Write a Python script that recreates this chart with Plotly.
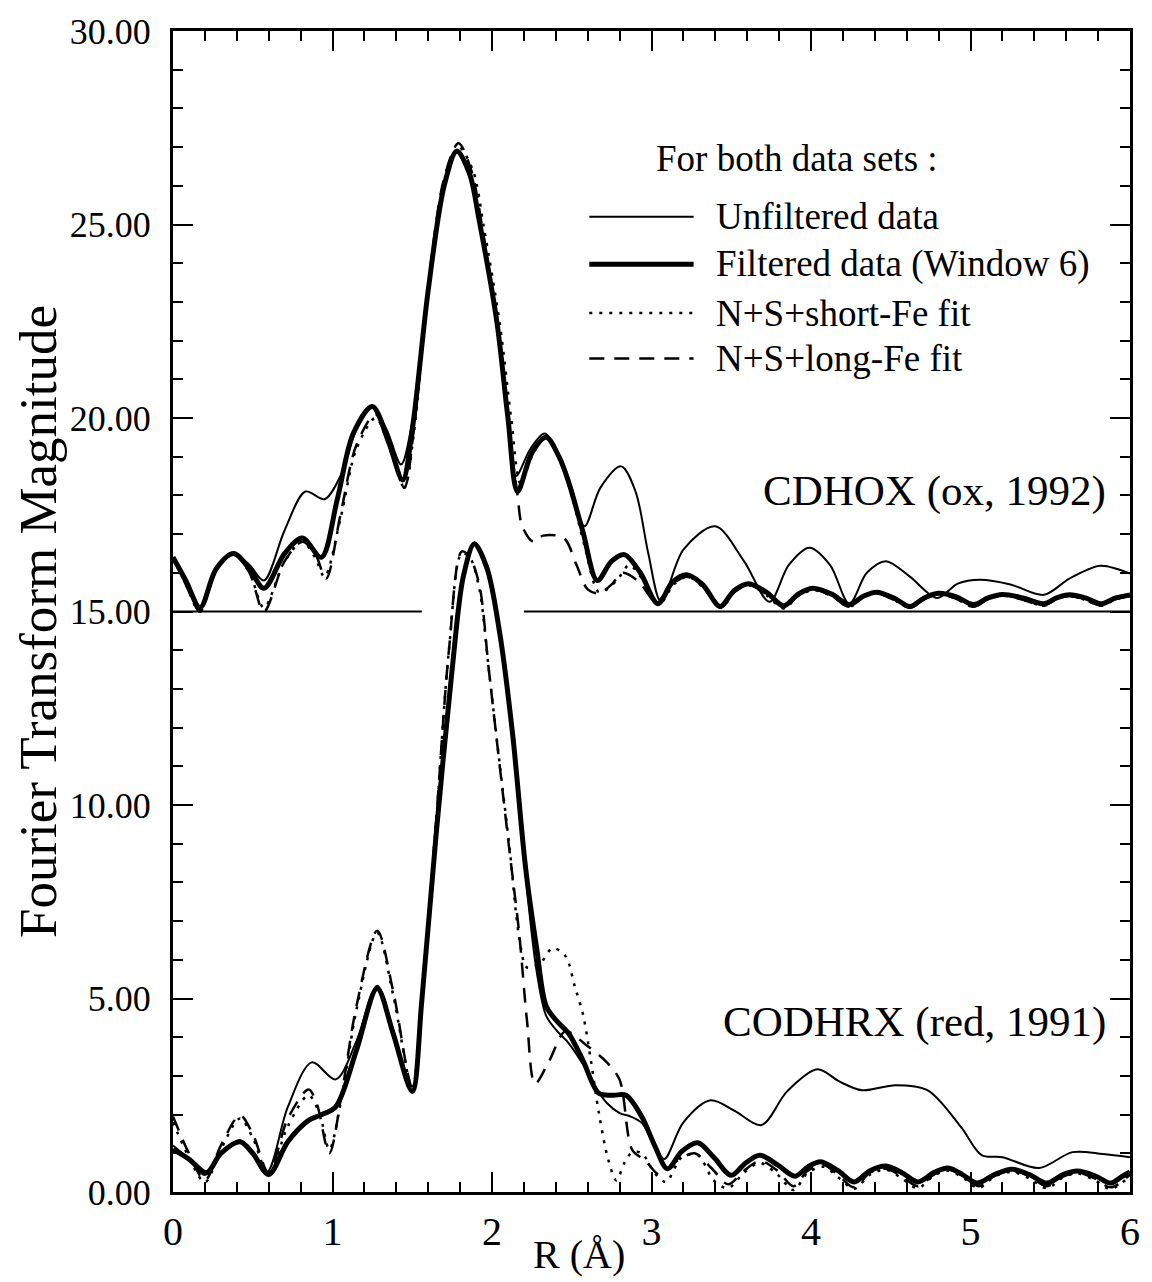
import plotly.graph_objects as go

FONT = "Liberation Serif"
OFFSET = 15.0  # CDHOX curves are displaced upward by 15

# ---------------- CDHOX (ox, 1992) : values before offset ----------------
ox_unf_r = [0, 0.08, 0.17, 0.27, 0.38, 0.48, 0.57, 0.70, 0.83, 0.95, 1.05, 1.15, 1.25, 1.34, 1.43,
            1.50, 1.60, 1.70, 1.78, 1.86, 1.92, 2.03, 2.10, 2.15, 2.24, 2.33, 2.42, 2.50, 2.58, 2.68,
            2.81, 2.90, 2.98, 3.06, 3.20, 3.40, 3.58, 3.74, 3.86, 3.99, 4.12, 4.24, 4.35, 4.47, 4.62,
            4.79, 4.92, 5.06, 5.25, 5.46, 5.62, 5.81, 5.92, 6.00]
ox_unf_v = [1.40, 0.80, 0.10, 1.10, 1.50, 1.20, 0.80, 2.10, 3.10, 2.90, 3.50, 4.70, 5.30, 4.70, 3.80,
            4.90, 8.30, 11.00, 11.90, 11.30, 10.10, 7.50, 5.00, 3.50, 4.20, 4.60, 4.00, 3.10, 2.20, 3.20,
            3.75, 3.10, 1.50, 0.25, 1.60, 2.20, 1.30, 0.25, 1.20, 1.65, 1.20, 0.20, 1.00, 1.30, 0.90,
            0.35, 0.72, 0.82, 0.70, 0.43, 0.85, 1.18, 1.10, 0.98]

ox_fil_r = [0, 0.08, 0.17, 0.27, 0.38, 0.48, 0.57, 0.70, 0.81, 0.93, 1.03, 1.13, 1.25, 1.35, 1.44,
            1.50, 1.60, 1.70, 1.78, 1.86, 1.92, 2.03, 2.10, 2.16, 2.25, 2.34, 2.42, 2.48, 2.57, 2.66,
            2.75, 2.83, 2.93, 3.04, 3.13, 3.22, 3.32, 3.43, 3.52, 3.61, 3.72, 3.83, 3.92, 4.01, 4.13,
            4.24, 4.33, 4.41, 4.52, 4.62, 4.71, 4.80, 4.91, 5.02, 5.11, 5.20, 5.33, 5.46, 5.54, 5.62,
            5.72, 5.82, 5.91, 6.00]
ox_fil_v = [1.40, 0.80, 0.10, 1.10, 1.50, 1.10, 0.60, 1.50, 1.90, 1.40, 2.90, 4.60, 5.30, 4.40, 3.40,
            4.70, 8.30, 11.00, 11.90, 11.30, 10.10, 7.50, 5.00, 3.10, 4.10, 4.50, 4.00, 3.35, 2.06, 0.80,
            1.30, 1.47, 1.00, 0.20, 0.75, 0.95, 0.70, 0.13, 0.55, 0.72, 0.50, 0.15, 0.45, 0.60, 0.45,
            0.18, 0.40, 0.50, 0.35, 0.13, 0.35, 0.47, 0.38, 0.18, 0.35, 0.44, 0.35, 0.20, 0.35, 0.43,
            0.35, 0.20, 0.35, 0.43]

ox_short_r = [0, 0.08, 0.17, 0.27, 0.38, 0.48, 0.57, 0.70, 0.81, 0.89, 0.95, 1.05, 1.15, 1.27, 1.36,
              1.45, 1.51, 1.60, 1.70, 1.79, 1.88, 1.95, 2.05, 2.12, 2.18, 2.26, 2.34, 2.43, 2.50, 2.58,
              2.67, 2.73, 2.80, 2.86, 2.95, 3.05, 3.14, 3.23, 3.33, 3.44, 3.52, 3.61, 3.72, 3.83, 3.92,
              4.01, 4.13, 4.24, 4.33, 4.41, 4.52, 4.62, 4.71, 4.80, 4.91, 5.02, 5.11, 5.20, 5.33, 5.46,
              5.54, 5.62, 5.72, 5.82, 5.91, 6.00]
ox_short_v = [1.40, 0.70, 0.00, 1.10, 1.50, 1.00, 0.10, 1.30, 1.80, 1.40, 0.90, 2.40, 4.20, 5.00, 4.20,
              3.20, 4.60, 8.20, 11.00, 12.00, 11.40, 9.90, 7.40, 5.00, 3.30, 4.10, 4.50, 3.90, 3.00, 1.70,
              0.50, 0.60, 0.90, 1.20, 0.80, 0.20, 0.70, 0.90, 0.60, 0.10, 0.52, 0.68, 0.42, 0.08, 0.40,
              0.55, 0.40, 0.12, 0.38, 0.48, 0.30, 0.10, 0.32, 0.45, 0.33, 0.12, 0.32, 0.42, 0.30, 0.15,
              0.32, 0.40, 0.30, 0.15, 0.32, 0.40]

ox_long_r = [0, 0.08, 0.17, 0.27, 0.38, 0.48, 0.57, 0.70, 0.81, 0.89, 0.96, 1.05, 1.15, 1.27, 1.36,
             1.45, 1.51, 1.60, 1.70, 1.79, 1.87, 1.94, 2.03, 2.10, 2.16, 2.19, 2.26, 2.32, 2.45, 2.53,
             2.60, 2.67, 2.75, 2.82, 2.92, 3.03, 3.13, 3.22, 3.32, 3.43, 3.52, 3.61, 3.72, 3.83, 3.92,
             4.01, 4.13, 4.24, 4.33, 4.41, 4.52, 4.62, 4.71, 4.80, 4.91, 5.02, 5.11, 5.20, 5.33, 5.46,
             5.54, 5.62, 5.72, 5.82, 5.91, 6.00]
ox_long_v = [1.40, 0.70, 0.00, 1.10, 1.50, 1.00, 0.00, 1.30, 1.80, 1.50, 0.85, 2.50, 4.30, 5.10, 4.30,
             3.20, 4.70, 8.40, 11.20, 12.10, 11.40, 9.90, 7.40, 4.90, 3.00, 2.20, 1.80, 1.96, 1.90, 1.20,
             0.57, 0.47, 0.70, 1.00, 0.77, 0.25, 0.70, 0.90, 0.65, 0.10, 0.50, 0.70, 0.45, 0.10, 0.42,
             0.58, 0.40, 0.12, 0.38, 0.48, 0.30, 0.10, 0.32, 0.45, 0.33, 0.12, 0.32, 0.42, 0.30, 0.15,
             0.32, 0.40, 0.30, 0.15, 0.32, 0.40]

# ---------------- CODHRX (red, 1991) ----------------
red_unf_r = [0, 0.10, 0.20, 0.30, 0.42, 0.50, 0.59, 0.72, 0.87, 1.02, 1.15, 1.28, 1.38, 1.50, 1.56,
             1.65, 1.75, 1.82, 1.89, 1.97, 2.05, 2.13, 2.21, 2.28, 2.34, 2.41, 2.48, 2.57, 2.65, 2.72,
             2.80, 2.87, 2.94, 3.02, 3.08, 3.20, 3.37, 3.52, 3.69, 3.85, 4.04, 4.18, 4.32, 4.53, 4.73,
             4.94, 5.07, 5.20, 5.43, 5.64, 5.83, 6.00]
red_unf_v = [1.20, 0.85, 0.44, 1.00, 1.34, 1.05, 0.52, 2.20, 3.35, 2.91, 3.90, 5.33, 4.20, 2.63, 4.95,
             9.25, 13.50, 15.90, 16.75, 16.10, 14.40, 11.80, 8.20, 5.70, 4.55, 4.15, 3.85, 3.30, 2.70, 2.30,
             2.04, 1.95, 1.78, 1.20, 0.85, 1.80, 2.37, 2.10, 1.73, 2.60, 3.17, 2.85, 2.63, 2.76, 2.63,
             1.68, 0.95, 0.90, 0.62, 1.03, 0.98, 0.90]

red_fil_r = [0, 0.10, 0.21, 0.30, 0.42, 0.50, 0.60, 0.72, 0.85, 0.92, 1.02, 1.15, 1.28, 1.38, 1.50,
             1.56, 1.65, 1.75, 1.82, 1.89, 1.97, 2.05, 2.13, 2.21, 2.28, 2.34, 2.41, 2.48, 2.57, 2.67,
             2.76, 2.84, 2.94, 3.02, 3.10, 3.19, 3.29, 3.39, 3.50, 3.59, 3.68, 3.79, 3.90, 3.98, 4.06,
             4.17, 4.27, 4.37, 4.47, 4.57, 4.67, 4.77, 4.86, 4.95, 5.04, 5.15, 5.26, 5.37, 5.48, 5.58,
             5.67, 5.78, 5.88, 5.95, 6.00]
red_fil_v = [1.10, 0.85, 0.50, 1.00, 1.30, 1.00, 0.45, 1.30, 1.85, 1.98, 2.20, 3.66, 5.26, 4.10, 2.60,
             4.95, 9.25, 13.50, 15.90, 16.75, 16.10, 14.40, 11.80, 8.40, 6.30, 4.80, 4.40, 4.10, 3.40, 2.55,
             2.50, 2.50, 1.94, 1.20, 0.60, 1.05, 1.27, 0.90, 0.43, 0.75, 0.95, 0.70, 0.41, 0.65, 0.78,
             0.55, 0.26, 0.55, 0.67, 0.50, 0.26, 0.50, 0.62, 0.45, 0.23, 0.45, 0.59, 0.45, 0.23, 0.45,
             0.54, 0.42, 0.23, 0.40, 0.52]

red_short_r = [0, 0.10, 0.20, 0.30, 0.42, 0.50, 0.60, 0.72, 0.85, 0.92, 0.98, 1.06, 1.15, 1.28, 1.38,
               1.50, 1.56, 1.65, 1.73, 1.81, 1.86, 1.92, 1.98, 2.05, 2.11, 2.17, 2.22, 2.30, 2.38, 2.46,
               2.52, 2.57, 2.62, 2.67, 2.73, 2.78, 2.83, 2.88, 2.94, 3.02, 3.09, 3.19, 3.29, 3.39, 3.48,
               3.58, 3.68, 3.79, 3.89, 3.98, 4.08, 4.18, 4.27, 4.37, 4.47, 4.57, 4.67, 4.77, 4.86, 4.96,
               5.05, 5.15, 5.26, 5.37, 5.48, 5.58, 5.67, 5.78, 5.88, 6.00]
red_short_v = [1.80, 0.90, 0.25, 1.10, 1.90, 1.40, 0.45, 1.70, 2.50, 2.00, 1.10, 2.50, 4.70, 6.70, 5.10,
               2.70, 5.00, 9.60, 14.00, 16.50, 16.40, 15.60, 13.50, 11.00, 8.90, 6.60, 5.80, 5.90, 6.30, 6.10,
               5.30, 4.60, 3.40, 2.04, 0.82, 0.30, 0.75, 1.03, 1.00, 0.49, 0.26, 0.90, 0.95, 0.30, 0.10,
               0.50, 0.75, 0.45, 0.05, 0.50, 0.65, 0.35, 0.08, 0.45, 0.58, 0.35, 0.10, 0.42, 0.55, 0.35,
               0.10, 0.40, 0.52, 0.35, 0.10, 0.38, 0.48, 0.30, 0.08, 0.42]

red_long_r = [0, 0.10, 0.20, 0.30, 0.42, 0.50, 0.60, 0.72, 0.85, 0.90, 0.98, 1.06, 1.15, 1.28, 1.38,
              1.50, 1.56, 1.65, 1.73, 1.81, 1.86, 1.92, 1.98, 2.05, 2.11, 2.17, 2.22, 2.27, 2.36, 2.46,
              2.59, 2.72, 2.80, 2.88, 2.96, 3.05, 3.16, 3.27, 3.38, 3.48, 3.58, 3.68, 3.79, 3.89, 3.98,
              4.08, 4.18, 4.27, 4.37, 4.47, 4.57, 4.67, 4.77, 4.86, 4.96, 5.05, 5.15, 5.26, 5.37, 5.48,
              5.58, 5.67, 5.78, 5.88, 6.00]
red_long_v = [1.95, 1.00, 0.30, 1.20, 1.98, 1.50, 0.50, 1.90, 2.65, 2.30, 1.00, 2.60, 4.80, 6.75, 5.20,
              2.70, 5.00, 9.60, 14.00, 16.55, 16.40, 15.70, 13.50, 10.95, 8.80, 6.70, 4.40, 2.80, 3.40, 4.15,
              3.80, 3.35, 2.90, 1.08, 0.82, 0.45, 0.80, 1.00, 0.60, 0.20, 0.55, 0.80, 0.55, 0.15, 0.55,
              0.70, 0.40, 0.12, 0.50, 0.60, 0.40, 0.15, 0.45, 0.58, 0.40, 0.15, 0.42, 0.55, 0.40, 0.15,
              0.40, 0.50, 0.35, 0.12, 0.45]

# zero line of the displaced CDHOX set (interrupted where the CODHRX peak passes)
base_r = [0, 1.56, None, 2.20, 6.0]
base_v = [0, 0, None, 0, 0]

NAMES = ["Unfiltered data", "Filtered data (Window 6)", "N+S+short-Fe fit", "N+S+long-Fe fit"]
STYLES = [dict(width=2, dash="solid"),
          dict(width=5, dash="solid"),
          dict(width=2.5, dash="3px,7px"),
          dict(width=2.5, dash="15px,10px")]

fig = go.Figure()


def add(r, v, idx, off=0.0):
    st = STYLES[idx]
    fig.add_trace(go.Scatter(
        x=r, y=[None if val is None else val + off for val in v], mode="lines",
        name=NAMES[idx], showlegend=False,
        line=dict(color="black", width=st["width"], dash=st["dash"], shape="spline", smoothing=0.9),
        connectgaps=False, hoverinfo="skip"))


fig.add_trace(go.Scatter(x=base_r, y=[None if b is None else b + OFFSET for b in base_v],
                         mode="lines", line=dict(color="black", width=2), showlegend=False,
                         connectgaps=False, hoverinfo="skip"))

add(ox_long_r, ox_long_v, 3, OFFSET)
add(ox_short_r, ox_short_v, 2, OFFSET)
add(ox_unf_r, ox_unf_v, 0, OFFSET)
add(ox_fil_r, ox_fil_v, 1, OFFSET)

add(red_long_r, red_long_v, 3)
add(red_short_r, red_short_v, 2)
add(red_unf_r, red_unf_v, 0)
add(red_fil_r, red_fil_v, 1)

# ----- manual legend (long line samples like the original) -----
LEG_X0, LEG_X1, LEG_TX = 0.435, 0.544, 0.565
LEG_ROWS = [0.840, 0.799, 0.757, 0.718]
shapes = []
annotations = []
for name, st, yy in zip(NAMES, STYLES, LEG_ROWS):
    shapes.append(dict(type="line", xref="paper", yref="paper", x0=LEG_X0, x1=LEG_X1, y0=yy, y1=yy,
                       line=dict(color="black", width=st["width"], dash=st["dash"])))
    annotations.append(dict(text=name, xref="paper", yref="paper", x=LEG_TX, y=yy,
                            xanchor="left", yanchor="middle", showarrow=False,
                            font=dict(family=FONT, size=37, color="black")))
annotations.append(dict(text="For both data sets :", xref="paper", yref="paper", x=0.503, y=0.890,
                        xanchor="left", yanchor="middle", showarrow=False,
                        font=dict(family=FONT, size=37, color="black")))

annotations.append(dict(text="CDHOX (ox, 1992)", xref="paper", yref="paper", x=0.977, y=0.604,
                        xanchor="right", yanchor="middle", showarrow=False,
                        font=dict(family=FONT, size=43, color="black")))
annotations.append(dict(text="CODHRX (red, 1991)", xref="paper", yref="paper", x=0.977, y=0.146,
                        xanchor="right", yanchor="middle", showarrow=False,
                        font=dict(family=FONT, size=43, color="black")))

# axis titles
annotations.append(dict(text="R (Å)", xref="paper", yref="paper", x=0.424, y=-0.054,
                        xanchor="center", yanchor="middle", showarrow=False,
                        font=dict(family=FONT, size=40, color="black")))
annotations.append(dict(text="Fourier Transform Magnitude", xref="paper", yref="paper", x=-0.141, y=0.491,
                        xanchor="center", yanchor="middle", showarrow=False, textangle=-90,
                        font=dict(family=FONT, size=53, color="black")))

fig.update_layout(
    width=1152, height=1282,
    margin=dict(l=173, r=20, t=28, b=90),
    paper_bgcolor="white", plot_bgcolor="white",
    font=dict(family=FONT, color="black"),
    shapes=shapes, annotations=annotations,
    showlegend=False,
)

fig.update_xaxes(
    range=[0, 6], dtick=1, tick0=0, tickformat="d",
    showgrid=False, zeroline=False,
    showline=True, linecolor="black", linewidth=3, mirror="ticks",
    ticks="inside", ticklen=20, tickwidth=2, tickcolor="black",
    minor=dict(dtick=0.2, ticks="inside", ticklen=10, tickwidth=2, tickcolor="black", showgrid=False),
    tickfont=dict(family=FONT, size=40, color="black"),
    ticklabelstandoff=2,
)
fig.update_yaxes(
    range=[0, 30], dtick=5, tick0=0, tickformat=".2f",
    showgrid=False, zeroline=False,
    showline=True, linecolor="black", linewidth=3, mirror="ticks",
    ticks="inside", ticklen=20, tickwidth=2, tickcolor="black",
    minor=dict(dtick=1, ticks="inside", ticklen=10, tickwidth=2, tickcolor="black", showgrid=False),
    tickfont=dict(family=FONT, size=36, color="black"),
    ticklabelstandoff=12,
)

fig.write_html("out.html")
